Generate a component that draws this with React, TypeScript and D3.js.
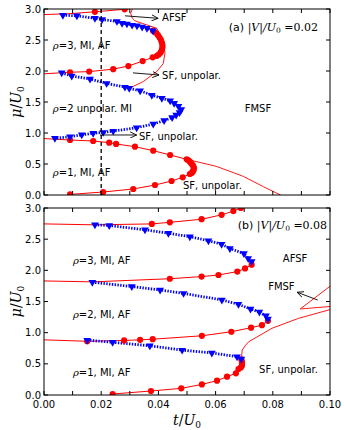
import * as d3 from "d3"

// ---- panel (a) |V|/U0 = 0.02 ----
const aRed3Top = [[0, 2.91], [0.0091, 2.925], [0.0178, 2.955], [0.0282, 2.995], [0.032, 3.02]]
const aRed3TopDots = [[0.0178, 2.955], [0.0282, 2.995]]
const aBlue3 = [[0.0066, 2.9], [0.0115, 2.89], [0.0178, 2.85], [0.0203, 2.83], [0.0255, 2.8], [0.0273, 2.77], [0.029, 2.76], [0.0308, 2.74], [0.0325, 2.73], [0.0343, 2.71], [0.036, 2.69], [0.0381, 2.65]]
const aRed3Low = [[0.0381, 2.65], [0.039, 2.62], [0.0398, 2.58], [0.0404, 2.54], [0.0409, 2.5], [0.0412, 2.46], [0.0414, 2.42], [0.0414, 2.38], [0.0412, 2.34], [0.0408, 2.3], [0.0402, 2.27], [0.0395, 2.245], [0.038, 2.22], [0.0345, 2.16], [0.0295, 2.08], [0.0242, 2.03], [0.0158, 1.99], [0.0091, 1.98]]
const aRed3LowTail = [[0.0091, 1.98], [0, 1.955]]
const aBlue2 = [[0.0062, 1.97], [0.0097, 1.92], [0.0161, 1.87], [0.0219, 1.8], [0.0283, 1.74], [0.0298, 1.72], [0.0336, 1.68], [0.0377, 1.61], [0.0412, 1.56], [0.0441, 1.52], [0.0455, 1.48], [0.047, 1.43], [0.048, 1.38], [0.0474, 1.33], [0.0462, 1.29], [0.0448, 1.25], [0.042, 1.2], [0.0382, 1.145], [0.0324, 1.085], [0.0242, 1.03], [0.0207, 1.01], [0.0172, 0.995], [0.0132, 0.97], [0.0091, 0.94], [0.0038, 0.915]]
const aRed1 = [[0.0091, 0.887], [0.0172, 0.871], [0.0228, 0.844], [0.0252, 0.823], [0.0318, 0.779], [0.0382, 0.715], [0.0441, 0.645], [0.0499, 0.576], [0.0505, 0.56], [0.051, 0.537], [0.0515, 0.51], [0.052, 0.484], [0.0523, 0.455], [0.0524, 0.431], [0.0523, 0.4], [0.052, 0.376], [0.0516, 0.355], [0.051, 0.339], [0.0485, 0.285], [0.0446, 0.226], [0.0388, 0.161], [0.0312, 0.097], [0.0207, 0.048], [0.0091, 0.01]]
const aRed1Head = [[0, 0.91], [0.0091, 0.887]]
const aThinTop = [[0.031, 3.01], [0.0303, 2.93], [0.0309, 2.85], [0.0318, 2.81], [0.0336, 2.78], [0.0394, 2.69], [0.0417, 2.5], [0.0423, 2.29], [0.0417, 2.12], [0.0394, 1.99], [0.0347, 1.83], [0.0307, 1.74]]
const aThinFM = [[0.0499, 0.576], [0.0604, 0.46], [0.0697, 0.3], [0.0767, 0.134], [0.0831, -0.01]]
const aDashT = 0.02

// ---- panel (b) |V|/U0 = 0.08 ----
const bRed3Top = [[0, 2.745], [0.0178, 2.73], [0.0377, 2.745], [0.044, 2.77], [0.0551, 2.82], [0.0621, 2.89], [0.0662, 2.95], [0.0688, 3.0], [0.07, 3.03]]
const bRed3TopDots = [[0.0377, 2.745], [0.044, 2.77], [0.0551, 2.82], [0.0621, 2.89], [0.0662, 2.95], [0.0688, 3.0]]
const bBlue3 = [[0.0178, 2.73], [0.0228, 2.72], [0.0353, 2.65], [0.0435, 2.595], [0.051, 2.54], [0.0575, 2.475], [0.0621, 2.42], [0.065, 2.35], [0.0699, 2.27], [0.0714, 2.19], [0.0726, 2.14]]
const bRed3Low = [[0.0726, 2.09], [0.0703, 2.03], [0.0676, 1.98], [0.061, 1.925], [0.0551, 1.9], [0.044, 1.865]]
const bRed3LowTail = [[0.044, 1.865], [0.017, 1.815], [0, 1.83]]
const bBlue2 = [[0.0169, 1.81], [0.0307, 1.74], [0.0406, 1.685], [0.0488, 1.63], [0.0622, 1.525], [0.068, 1.455], [0.0722, 1.38], [0.0753, 1.33], [0.0776, 1.27], [0.0783, 1.22]]
const bRed2Low = [[0.0783, 1.19], [0.0762, 1.12], [0.0724, 1.08], [0.0655, 1.015], [0.0552, 0.95], [0.038, 0.895], [0.0336, 0.885], [0.028, 0.875], [0.0151, 0.862]]
const bRed2LowTail = [[0.0151, 0.862], [0, 0.885]]
const bBlue1 = [[0.0151, 0.88], [0.024, 0.845], [0.037, 0.79], [0.0483, 0.72], [0.0587, 0.675], [0.0675, 0.615], [0.069, 0.578]]
const bRed1 = [[0.069, 0.57], [0.0692, 0.535], [0.0692, 0.5], [0.0692, 0.47], [0.0688, 0.44], [0.068, 0.417], [0.0671, 0.348], [0.064, 0.294], [0.0605, 0.23], [0.0552, 0.17], [0.048, 0.107], [0.0374, 0.064], [0.024, 0.016]]
const bRed1Tail = [[0.024, 0.016], [0.0225, -0.01]]
const bThin1 = [[0.069, 0.57], [0.0693, 0.72], [0.0705, 0.8], [0.0716, 0.855], [0.0797, 1.07], [0.089, 1.23], [0.1, 1.37]]
const bThin2 = [[0.1, 1.745], [0.0896, 1.38], [0.1, 1.42]]

const xTicks = d3.range(0, 0.1001, 0.01)
const xLabels = ["0.00", "0.02", "0.04", "0.06", "0.08", "0.10"]
const yTicks = [0, 0.5, 1, 1.5, 2, 2.5, 3]

const W = 344
const H = 430
const L = 44
const R = 330
const SANS = "DejaVu Sans"
const SERIF = "DejaVu Serif"

const x = d3.scaleLinear().domain([0, 0.1]).range([L, R])
const yA = d3.scaleLinear().domain([0, 3]).range([195, 9])
const yB = d3.scaleLinear().domain([0, 3]).range([395, 208])

const tri = d3.symbol(d3.symbolTriangle, 26)()

function Rho({ n, extra }) {
    return (
        <>
            <tspan fontFamily={SERIF} fontStyle="italic">ρ</tspan>
            <tspan>={n}{extra}</tspan>
        </>
    )
}

function Arrow({ x1, y1, x2, y2 }) {
    return <line x1={x1} y1={y1} x2={x2} y2={y2} stroke="#000" strokeWidth={0.9} markerEnd="url(#arr)" />
}

function Panel({ id, y, red, redDots, thin, blue, showXLabels, children }) {
    const line = d3.line().x(d => x(d[0])).y(d => y(d[1]))
    const [y0, y1] = y.range()
    return (
        <g>
            <clipPath id={id}>
                <rect x={L} y={y1} width={R - L} height={y0 - y1} />
            </clipPath>
            <g clipPath={`url(#${id})`}>
                {thin.map((s, i) => (
                    <path key={"t" + i} d={line(s)} fill="none" stroke="#ff0000" strokeWidth={0.9} />
                ))}
                {red.map((s, i) => (
                    <path key={"r" + i} d={line(s)} fill="none" stroke="#ff0000" strokeWidth={1} />
                ))}
                {blue.map((s, i) => (
                    <path key={"b" + i} d={line(s)} fill="none" stroke="#0000ff" strokeWidth={2.8} strokeDasharray="1.4,1.4" />
                ))}
                {redDots.map((s, i) =>
                    s.map((d, j) => (
                        <circle key={`c${i}-${j}`} cx={x(d[0])} cy={y(d[1])} r={3.1} fill="#ff0000" />
                    ))
                )}
                {blue.map((s, i) =>
                    s.map((d, j) => (
                        <path key={`m${i}-${j}`} d={tri} transform={`translate(${x(d[0])},${y(d[1])}) rotate(180)`} fill="#0000ff" />
                    ))
                )}
                {children}
            </g>
            <rect x={L} y={y1} width={R - L} height={y0 - y1} fill="none" stroke="#000" strokeWidth={1} />
            {xTicks.map((t, i) => (
                <g key={"xt" + i}>
                    <line x1={x(t)} x2={x(t)} y1={y0} y2={y0 - 4} stroke="#000" />
                    <line x1={x(t)} x2={x(t)} y1={y1} y2={y1 + 4} stroke="#000" />
                </g>
            ))}
            {yTicks.map((v, i) => (
                <g key={"yt" + i}>
                    <line x1={L} x2={L + 4} y1={y(v)} y2={y(v)} stroke="#000" />
                    <line x1={R} x2={R - 4} y1={y(v)} y2={y(v)} stroke="#000" />
                    <text x={L - 3} y={y(v) + 3.6} textAnchor="end" fontSize={10} fontFamily={SANS}>{v.toFixed(1)}</text>
                </g>
            ))}
            {showXLabels && xLabels.map(s => (
                <text key={s} x={x(+s)} y={y0 + 13} textAnchor="middle" fontSize={10} fontFamily={SANS}>{s}</text>
            ))}
            <text transform={`translate(21,${(y0 + y1) / 2}) rotate(-90)`} textAnchor="middle" fontSize={14} fontFamily={SERIF}>
                <tspan fontStyle="italic">μ</tspan>/<tspan fontStyle="italic">U</tspan><tspan fontSize={9} dy={3}>0</tspan>
            </text>
        </g>
    )
}

export default function App() {
    return (
        <svg width={W} height={H} style={{ position: "absolute", left: 0, top: 0, background: "#fff" }} fontFamily={SANS}>
            <defs>
                <marker id="arr" viewBox="0 0 8 8" refX={7.5} refY={4} markerWidth={7} markerHeight={7} markerUnits="userSpaceOnUse" orient="auto">
                    <path d="M0,0.5 L7.5,4 L0,7.5" fill="none" stroke="#000" strokeWidth={1} />
                </marker>
            </defs>

            <Panel
                id="clipA"
                y={yA}
                red={[aRed3Top, aRed3Low, aRed3LowTail, aRed1, aRed1Head]}
                redDots={[aRed3TopDots, aRed3Low, aRed1]}
                thin={[aThinTop, aThinFM]}
                blue={[aBlue3, aBlue2]}
            >
                <line x1={x(aDashT)} x2={x(aDashT)} y1={yA(0)} y2={yA(3)} stroke="#000" strokeWidth={1.3} strokeDasharray="4,3" />
            </Panel>
            <g fontSize={10}>
                <text x={x(0.0958)} y={yA(2.645)} textAnchor="end" fontSize={11}>
                    (a) <tspan fontFamily={SERIF} fontStyle="italic">|V|/U</tspan><tspan fontFamily={SERIF} fontSize={7.5} dy={2}>0</tspan><tspan fontFamily={SERIF} dy={-2}> =0.02</tspan>
                </text>
                <Arrow x1={x(0.0283)} y1={yA(2.89)} x2={x(0.0399)} y2={yA(2.85)} />
                <text x={x(0.0413)} y={yA(2.8)}>AFSF</text>
                <Arrow x1={x(0.0311)} y1={yA(1.97)} x2={x(0.0402)} y2={yA(1.935)} />
                <text x={x(0.0413)} y={yA(1.87)}>SF, unpolar.</text>
                <text x={x(0.0031)} y={yA(2.355)}><Rho n="3" extra=", MI, AF" /></text>
                <text x={x(0.0031)} y={yA(1.34)}><Rho n="2" extra=" unpolar. MI" /></text>
                <text x={x(0.0748)} y={yA(1.34)} textAnchor="middle">FMSF</text>
                <Arrow x1={x(0.0196)} y1={yA(0.968)} x2={x(0.0324)} y2={yA(0.968)} />
                <text x={x(0.0332)} y={yA(0.887)}>SF, unpolar.</text>
                <text x={x(0.0031)} y={yA(0.306)}><Rho n="1" extra=", MI, AF" /></text>
                <text x={x(0.0486)} y={yA(0.097)}>SF, unpolar.</text>
            </g>

            <Panel
                id="clipB"
                y={yB}
                red={[bRed3Top, bRed3Low, bRed3LowTail, bRed2Low, bRed2LowTail, bRed1, bRed1Tail]}
                redDots={[bRed3TopDots, bRed3Low, bRed2Low, bRed1]}
                thin={[bThin1, bThin2]}
                blue={[bBlue3, bBlue2, bBlue1]}
                showXLabels
            />
            <g fontSize={10}>
                <text x={x(0.099)} y={yB(2.66)} textAnchor="end" fontSize={11}>
                    (b) <tspan fontFamily={SERIF} fontStyle="italic">|V|/U</tspan><tspan fontFamily={SERIF} fontSize={7.5} dy={2}>0</tspan><tspan fontFamily={SERIF} dy={-2}> =0.08</tspan>
                </text>
                <text x={x(0.0878)} y={yB(2.13)} textAnchor="middle">AFSF</text>
                <text x={x(0.083)} y={yB(1.685)} textAnchor="middle">FMSF</text>
                <Arrow x1={x(0.0957)} y1={yB(1.524)} x2={x(0.0885)} y2={yB(1.648)} />
                <text x={x(0.0752)} y={yB(0.353)}>SF, unpolar.</text>
                <text x={x(0.0101)} y={yB(2.1)}><Rho n="3" extra=", MI, AF" /></text>
                <text x={x(0.0101)} y={yB(1.243)}><Rho n="2" extra=", MI, AF" /></text>
                <text x={x(0.0101)} y={yB(0.305)}><Rho n="1" extra=", MI, AF" /></text>
            </g>

            <text x={x(0.05)} y={425} textAnchor="middle" fontSize={14} fontFamily={SERIF}>
                <tspan fontStyle="italic">t</tspan>/<tspan fontStyle="italic">U</tspan><tspan fontSize={9} dy={3}>0</tspan>
            </text>
        </svg>
    )
}
